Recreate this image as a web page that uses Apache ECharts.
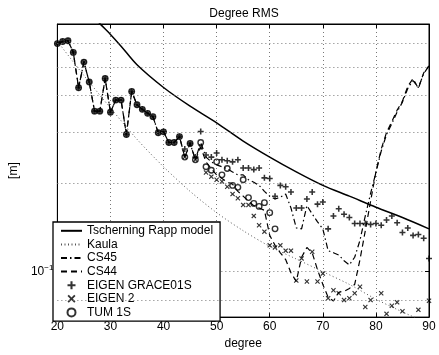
<!DOCTYPE html>
<html>
<head>
<meta charset="utf-8">
<script src="https://cdn.jsdelivr.net/npm/echarts@6/dist/echarts.min.js"></script>
<style>
  html, body { margin: 0; background: #fff; }
  #chart { width: 439px; height: 355px; }
</style>
</head>
<body>
<div id="chart"></div>
<script>
// degrees 20..42 where all solutions coincide
const commonDegrees = [20, 21, 22, 23, 24, 25, 26, 27, 28, 29, 30, 31, 32, 33, 34, 35, 36, 37, 38, 39, 40, 41, 42]
const commonRms = [0.60, 0.61, 0.614, 0.56, 0.424, 0.519, 0.444, 0.353, 0.353, 0.456, 0.350, 0.385, 0.385, 0.294, 0.412, 0.371, 0.358, 0.347, 0.338, 0.298, 0.300, 0.276, 0.276]

// degrees 43..90
const tailDegrees = [43, 44, 45, 46, 47, 48, 49, 50, 51, 52, 53, 54, 55, 56, 57, 58, 59, 60, 61, 62, 63, 64, 65, 66, 67, 68, 69, 70, 71, 72, 73, 74, 75, 76, 77, 78, 79, 80, 81, 82, 83, 84, 85, 86, 87, 88, 89, 90]
const cs45Tail = [0.289, 0.246, 0.274, 0.241, 0.276,
  0.246, 0.237, 0.2315, 0.228, 0.2245, 0.219, 0.214, 0.214, 0.206, 0.202,
  0.197, 0.188, 0.181, 0.177, 0.1796, 0.184, 0.165, 0.141, 0.140, 0.168,
  0.1575, 0.148, 0.140, 0.118, 0.116, 0.114, 0.109, 0.1055, 0.112, 0.128,
  0.155, 0.185, 0.218, 0.258, 0.294, 0.320, 0.351, 0.379, 0.422, 0.449,
  0.425, 0.474, 0.504]
const cs44Tail = [0.289, 0.246, 0.274, 0.241, 0.266,
  0.237, 0.2245, 0.214, 0.208, 0.202, 0.199, 0.188, 0.181, 0.174, 0.168,
  0.165, 0.162, 0.133, 0.123, 0.116, 0.110, 0.0992, 0.0926, 0.112, 0.121,
  0.116, 0.1015, 0.0905, 0.0818, 0.0794, 0.0851, 0.0857, 0.0877, 0.0905, 0.110,
  0.138, 0.174, 0.219, 0.262, 0.2985, 0.325, 0.356, 0.382, 0.429, 0.456,
  0.422, 0.477, 0.504]
const grace01sTail = [0.289, 0.262, 0.274, 0.246, 0.301,
  0.250, 0.246, 0.254, 0.241, 0.239, 0.237, 0.241, 0.226, 0.226, 0.223,
  0.226, 0.209, 0.208, 0.181, 0.197, 0.195, 0.187, 0.165, 0.165, 0.177,
  0.187, 0.170, 0.173, 0.140, 0.155, 0.164, 0.157, 0.153, 0.146, 0.146,
  0.146, 0.145, 0.146, 0.144, 0.150, 0.155, 0.147, 0.136, 0.141, 0.133,
  0.134, 0.130, 0.111]
const eigen2Tail = [0.289, 0.246, 0.274, 0.241, 0.266,
  0.218, 0.211, 0.206, 0.203, 0.195, 0.184, 0.178, 0.169, 0.169, 0.155,
  0.144, 0.137, 0.123, 0.121, 0.123, 0.118, 0.118, 0.0933, 0.111, 0.0926,
  0.117, 0.0926, 0.0985, 0.0812, 0.0864, 0.0844, 0.0800, 0.0812, 0.0844, 0.0888,
  0.0758, 0.0800, null, 0.0844, 0.0718, 0.0765, 0.0786, 0.0733, null, null,
  0.0741, null, 0.0796]
// TUM 1S stops at degree 61
const tum1sTail = [0.289, 0.246, 0.274, 0.241, 0.276, 0.228, 0.222, 0.237, 0.214, 0.225,
  0.197, 0.194, 0.206, 0.179, 0.171, 0.167, 0.172, 0.159, 0.140]

const kaulaDegrees = [20, 25, 30, 35, 40, 45, 50, 55, 60, 65, 70, 75, 80, 85, 90]
const kaulaRms = [0.611, 0.467, 0.362, 0.283, 0.228, 0.188, 0.159, 0.138, 0.122, 0.1105, 0.100, 0.0905, 0.0806, 0.0729, 0.0665]

const trDegrees = [26, 28, 30, 32, 35, 40, 45, 50, 55, 60, 65, 70, 75, 80, 85, 90]
const trRms = [0.769, 0.702, 0.645, 0.588, 0.508, 0.425, 0.367, 0.322, 0.279, 0.246, 0.219, 0.197, 0.181, 0.166, 0.153, 0.140]

// minor log grid lines shown in the original
const minorGrid = [0.08, 0.2, 0.3, 0.4, 0.5, 0.6]

const FONT = '"Liberation Sans", Arial, sans-serif'
const PLUS = 'path://M3.7,0H6.3V3.7H10V6.3H6.3V10H3.7V6.3H0V3.7H3.7Z'
const CROSS = 'path://M0,1.6L1.6,0L5,3.4L8.4,0L10,1.6L6.6,5L10,8.4L8.4,10L5,6.6L1.6,10L0,8.4L3.4,5Z'

const zip = (xs, ys) => xs.map((x, i) => [x, ys[i]])
const withCommon = (tail) => zip(commonDegrees, commonRms).concat(zip(tailDegrees.slice(0, tail.length), tail))

const chart = echarts.init(document.getElementById('chart'))

const axisBase = {
  axisLine: { show: true, lineStyle: { color: '#000', width: 1 } },
  axisTick: { show: true, inside: true, length: 4, lineStyle: { color: '#000' } },
}
// line entries hide the legend symbol, keep only the stroke
const lineLegend = (name) => ({ name, itemStyle: { opacity: 0 } })

chart.setOption({
  animation: false,
  textStyle: { fontFamily: FONT },
  title: {
    text: 'Degree RMS', left: 239, top: 3, textAlign: 'center',
    textStyle: { fontSize: 12, fontWeight: 'normal', color: '#000', fontFamily: FONT },
  },
  grid: { left: 49, right: 10, top: 24, bottom: 31, show: true, borderColor: '#000', borderWidth: 1 },
  legend: {
    orient: 'vertical', left: 53, top: 222,
    padding: [2, 7, 2, 7], itemGap: 0, itemWidth: 21, itemHeight: 8,
    backgroundColor: '#fff', borderColor: '#000', borderWidth: 1.3,
    selectedMode: false,
    textStyle: { fontSize: 12, color: '#000', lineHeight: 13.6, fontFamily: FONT },
    data: [lineLegend('Tscherning Rapp model'), lineLegend('Kaula'), lineLegend('CS45'), lineLegend('CS44'),
      'EIGEN GRACE01S', 'EIGEN 2', 'TUM 1S'],
  },
  xAxis: [
    {
      ...axisBase, type: 'value', min: 20, max: 90, interval: 10,
      name: 'degree', nameLocation: 'middle', nameGap: 15,
      nameTextStyle: { fontSize: 12, color: '#000' },
      axisLabel: { fontSize: 12, color: '#000', margin: 4 },
      splitLine: { show: true, lineStyle: { type: [1, 3], color: '#777' } },
    },
    {
      ...axisBase, type: 'value', position: 'top', min: 20, max: 90, interval: 10,
      axisLabel: { show: false }, splitLine: { show: false },
    },
  ],
  yAxis: [
    {
      ...axisBase, type: 'log', logBase: 10, min: 0.07, max: 0.7,
      name: '[m]', nameLocation: 'middle', nameGap: 30,
      nameTextStyle: { fontSize: 12, color: '#000' },
      axisLabel: {
        fontSize: 12, color: '#000', margin: 4,
        showMinLabel: false, showMaxLabel: false,
        formatter: (v) => (Math.abs(v - 0.1) < 1e-6 ? '{b|10}{s|−1}' : ''),
        rich: { b: { fontSize: 12, color: '#000' }, s: { fontSize: 8, color: '#000', padding: [0, 0, 7, 0] } },
      },
      splitLine: { show: true, lineStyle: { type: [1, 3], color: '#777' } },
    },
    {
      ...axisBase, type: 'log', logBase: 10, min: 0.07, max: 0.7, position: 'right',
      axisLabel: { show: false }, splitLine: { show: false },
    },
  ],
  series: [
    {
      name: 'Tscherning Rapp model', type: 'line', symbol: 'none', smooth: 0.3,
      lineStyle: { color: '#000', width: 1.5 },
      data: zip(trDegrees, trRms), z: 3,
    },
    {
      name: 'Kaula', type: 'line', symbol: 'none', smooth: 0.3,
      lineStyle: { color: '#555', width: 1, type: [1, 2.5] },
      data: zip(kaulaDegrees, kaulaRms),
      markLine: {
        silent: true, symbol: 'none', label: { show: false }, animation: false,
        lineStyle: { type: [1, 3], color: '#777', width: 1 },
        data: minorGrid.map((v) => ({ yAxis: v })),
      },
    },
    {
      name: 'CS45', type: 'line', symbol: 'none',
      lineStyle: { color: '#000', width: 1.2, type: [6, 3, 1.5, 3] },
      data: withCommon(cs45Tail),
    },
    {
      name: 'CS44', type: 'line', symbol: 'none',
      lineStyle: { color: '#000', width: 1.2, type: [6, 4] },
      data: withCommon(cs44Tail),
    },
    {
      name: 'EIGEN GRACE01S', type: 'scatter', symbol: PLUS, symbolSize: 6,
      itemStyle: { color: '#000' },
      data: withCommon(grace01sTail), z: 4,
    },
    {
      name: 'EIGEN 2', type: 'scatter', symbol: CROSS, symbolSize: 5,
      itemStyle: { color: '#000' },
      data: withCommon(eigen2Tail).filter((p) => p[1] !== null), z: 4,
    },
    {
      name: 'TUM 1S', type: 'scatter', symbol: 'circle', symbolSize: 5.5,
      itemStyle: { color: 'rgba(0,0,0,0)', borderColor: '#000', borderWidth: 1.4 },
      data: withCommon(tum1sTail), z: 4,
    },
  ],
})
</script>
</body>
</html>
